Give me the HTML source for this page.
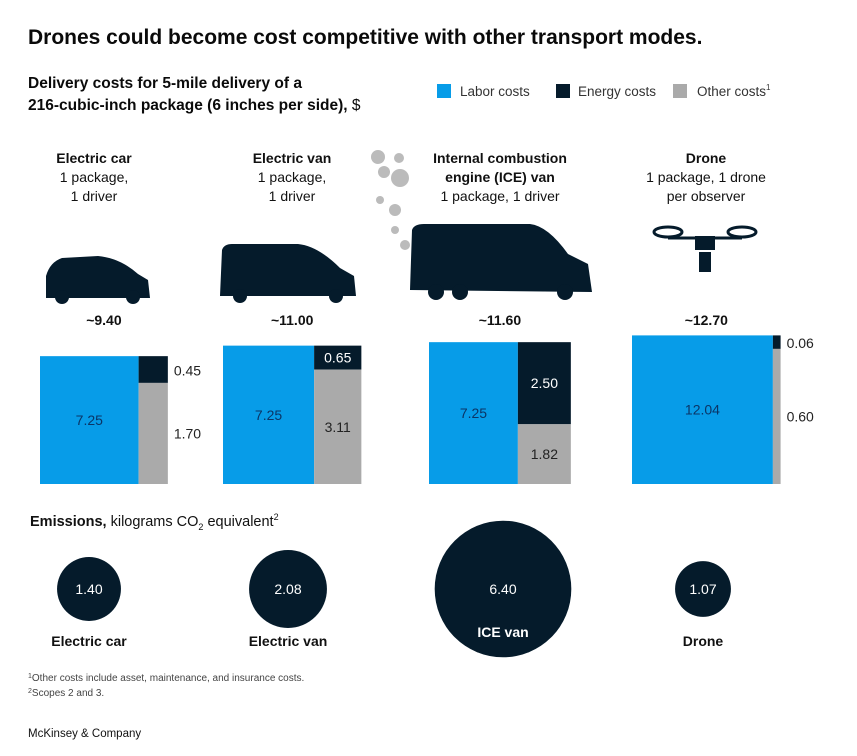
<!DOCTYPE html>
<html><head><meta charset="utf-8"><style>
body{margin:0;background:#fff;}
svg{display:block;font-family:"Liberation Sans",sans-serif;}
</style></head><body>
<svg id="chart" width="857" height="756" viewBox="0 0 857 756">
<text x="28" y="44" font-size="21" font-weight="bold" fill="#0a0a0a">Drones could become cost competitive with other transport modes.</text>
<text font-size="15.5" font-weight="bold" fill="#0a0a0a"><tspan x="28" y="88">Delivery costs for 5-mile delivery of a</tspan><tspan x="28" y="110">216-cubic-inch package (6 inches per side), <tspan font-weight="normal">$</tspan></tspan></text>
<g font-size="13.5" fill="#333">
<rect x="437" y="84" width="14" height="14" fill="#079ce8"/><text x="460" y="96">Labor costs</text>
<rect x="556" y="84" width="14" height="14" fill="#051b2b"/><text x="578" y="96">Energy costs</text>
<rect x="673" y="84" width="14" height="14" fill="#aaa"/><text x="697" y="96">Other costs<tspan font-size="8" dy="-6">1</tspan></text>
</g>
<g fill="#bbb">
<circle cx="378" cy="157" r="7"/><circle cx="384" cy="172" r="6"/><circle cx="399" cy="158" r="5"/><circle cx="400" cy="178" r="9"/><circle cx="380" cy="200" r="4"/><circle cx="395" cy="210" r="6"/><circle cx="405" cy="245" r="5"/><circle cx="395" cy="230" r="4"/>
</g>
<g fill="#051b2b">
<path d="M46 298 L46 276 Q50 262 62 258 L98 256 Q120 258 138 274 L148 280 L150 298 Z"/>
<circle cx="62" cy="297" r="7"/><circle cx="133" cy="297" r="7"/>
<path d="M220 296 L222 250 Q224 244 232 244 L298 244 Q318 246 340 268 L354 276 L356 296 Z"/>
<circle cx="240" cy="296" r="7"/><circle cx="336" cy="296" r="7"/>
<path d="M410 290 L412 230 Q414 224 424 224 L530 224 Q548 226 568 254 L588 264 L592 292 Z"/>
<circle cx="436" cy="292" r="8"/><circle cx="460" cy="292" r="8"/><circle cx="565" cy="292" r="8"/>
<g stroke="#051b2b" stroke-width="3" fill="none"><line x1="668" y1="238" x2="742" y2="238"/></g>
<ellipse cx="668" cy="232" rx="14" ry="5" fill="none" stroke="#051b2b" stroke-width="3"/>
<ellipse cx="742" cy="232" rx="14" ry="5" fill="none" stroke="#051b2b" stroke-width="3"/>
<rect x="695" y="236" width="20" height="14"/><rect x="699" y="252" width="12" height="20"/>
</g>
<g id="cols"></g>
<text x="30" y="526" font-size="14.5" fill="#111"><tspan font-weight="bold">Emissions,</tspan> kilograms CO<tspan font-size="9" dy="4">2</tspan><tspan dy="-4"> equivalent</tspan><tspan font-size="9" dy="-6">2</tspan></text>
<g id="circles"></g>
<text x="28" y="681" font-size="10" fill="#444"><tspan font-size="7" dy="-3">1</tspan><tspan dy="3">Other costs include asset, maintenance, and insurance costs.</tspan></text>
<text x="28" y="696" font-size="10" fill="#444"><tspan font-size="7" dy="-3">2</tspan><tspan dy="3">Scopes 2 and 3.</tspan></text>
<text x="28" y="737" font-size="11.5" fill="#111">McKinsey &amp; Company</text>
</svg>
<script>
const modes = ["Electric car","Electric van","ICE van","Drone"];
const laborCosts = [7.25, 7.25, 7.25, 12.04];
const energyCosts = [0.45, 0.65, 2.50, 0.06];
const otherCosts = [1.70, 3.11, 1.82, 0.60];
const totalLabels = ["~9.40","~11.00","~11.60","~12.70"];
const emissions = [1.40, 2.08, 6.40, 1.07];
const headers = [["Electric car","1 package,","1 driver"],["Electric van","1 package,","1 driver"],["Internal combustion","engine (ICE) van","1 package, 1 driver"],["Drone","1 package, 1 drone","per observer"]];
const boldLines = [1,1,2,1];

const NS="http://www.w3.org/2000/svg";
const colsG=document.getElementById('cols');
const circG=document.getElementById('circles');
const lefts=[40,223,429,632];
const centers=[94,292,500,706];
const baseY=484, k=41.7, rk=27;
function mk(tag,attrs,parent,txt){const e=document.createElementNS(NS,tag);for(const a in attrs)e.setAttribute(a,attrs[a]);if(txt!==undefined)e.textContent=txt;parent.appendChild(e);return e;}
modes.forEach((m,i)=>{
  const g=mk('g',{},colsG);
  
  
  headers[i].forEach((l,j)=>{
    const t=mk('text',{x:centers[i],y:163+j*19,'text-anchor':'middle','font-size':14,'font-weight':j<boldLines[i]?'bold':'normal',fill:'#111'},g,l);
    
    
  });
  const total=laborCosts[i]+energyCosts[i]+otherCosts[i];
  const side=k*Math.sqrt(total);
  const x0=lefts[i], y0=baseY-side;
  const bw=side*laborCosts[i]/total;
  const rw=side-bw;
  const eh=side*energyCosts[i]/(energyCosts[i]+otherCosts[i]);
  const tt=mk('text',{x:x0+side/2,y:325,'text-anchor':'middle','font-size':14,'font-weight':'bold',fill:'#111'},g,totalLabels[i]);
  
  
  const r1=mk('rect',{x:x0,y:y0,width:bw,height:side,fill:'#079ce8'},g);
  
  
  const r2=mk('rect',{x:x0+bw,y:y0,width:rw,height:eh,fill:'#051b2b'},g);
  
  
  const r3=mk('rect',{x:x0+bw,y:y0+eh,width:rw,height:side-eh,fill:'#aaa'},g);
  
  
  const l1=mk('text',{x:x0+bw/2,y:y0+side/2+5,'text-anchor':'middle','font-size':14,fill:'#0b3566'},g,laborCosts[i].toFixed(2));
  
  
  const inside = rw>40;
  const eIn = inside && eh>20;
  const l2=mk('text',{x:eIn?x0+bw+rw/2:x0+side+6,y:eIn?y0+eh/2+5:y0+Math.max(eh,12)/2+6,'text-anchor':eIn?'middle':'start','font-size':14,fill:eIn?'#fff':'#222'},g,energyCosts[i].toFixed(2));
  
  
  const l3=mk('text',{x:inside?x0+bw+rw/2:x0+side+6,y:y0+eh+(side-eh)/2+5,'text-anchor':inside?'middle':'start','font-size':14,fill:'#222'},g,otherCosts[i].toFixed(2));
  
  

  const r=rk*Math.sqrt(emissions[i]);
  const cg=mk('g',{},circG);
  
  
  const cx=[89,288,503,703][i], cy=589;
  mk('circle',{cx:cx,cy:cy,r:r,fill:'#051b2b'},cg);
  mk('text',{x:cx,y:cy+5,'text-anchor':'middle','font-size':14,fill:'#fff'},cg,emissions[i].toFixed(2));
  const inC = r>50;
  mk('text',{x:cx,y:inC?637:646,'text-anchor':'middle','font-size':14,'font-weight':'bold',fill:inC?'#fff':'#111'},cg,m);
});
</script>
</body></html>
